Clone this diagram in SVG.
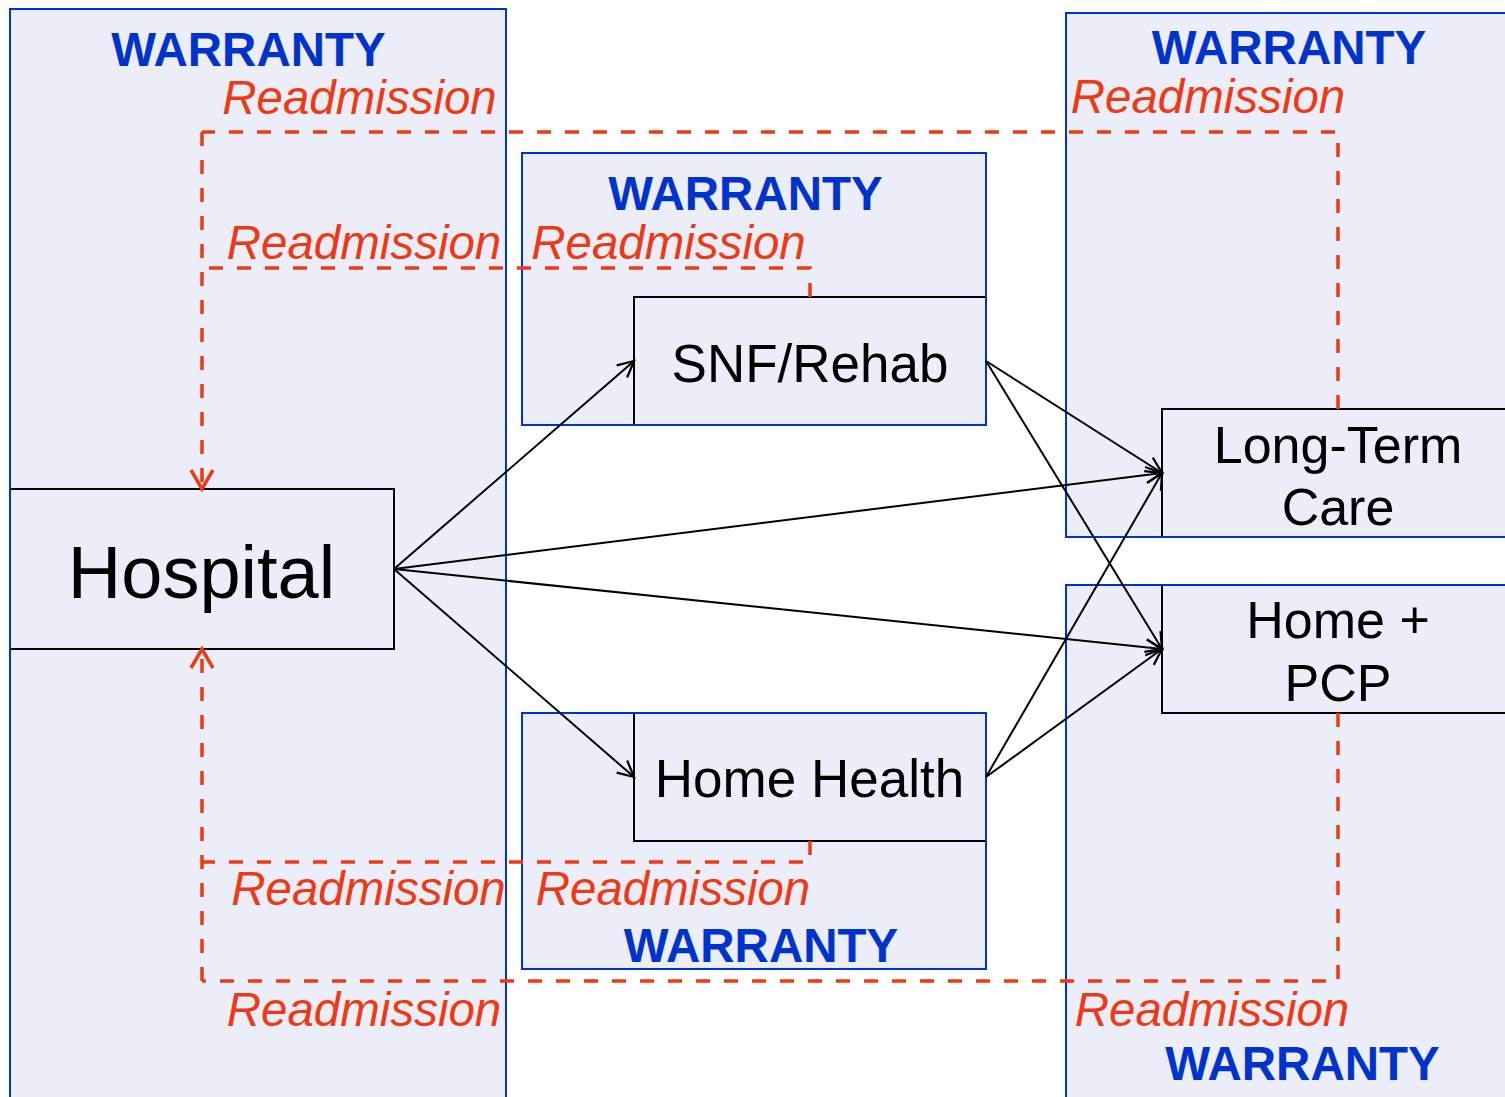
<svg xmlns="http://www.w3.org/2000/svg" width="1505" height="1097" viewBox="0 0 1505 1097">
  <style>
    .zone { fill: #EBEDF9; stroke: none; }
    .zone-edge { fill: none; stroke: #0033CC; stroke-width: 2; }
    .node { fill: #EBEDF9; stroke: #000000; stroke-width: 2; }
    .warranty { font-family: "Liberation Sans", Arial, sans-serif; font-weight: bold; font-size: 47.5px; fill: #0033CC; text-anchor: middle; }
    .readm { font-family: "Liberation Sans", Arial, sans-serif; font-style: italic; font-size: 47.5px; fill: #EE3A14; text-anchor: middle; }
    .label { font-family: "Liberation Sans", Arial, sans-serif; fill: #000000; text-anchor: middle; }
    .flow { fill: none; stroke: #000000; stroke-width: 2; marker-end: url(#arrow-black); }
    .loop { fill: none; stroke: #EE3A14; stroke-width: 3.5; stroke-dasharray: 14 14; }
    .loop-arrow { marker-end: url(#arrow-red); }
  </style>
  <defs>
    <marker id="arrow-black" markerUnits="userSpaceOnUse" markerWidth="24" markerHeight="24" viewBox="-20 -12 24 24" refX="0" refY="0" orient="auto">
      <path d="M -16 -8 L 0 0 L -16 8" fill="none" stroke="#000000" stroke-width="2.2"/>
    </marker>
    <marker id="arrow-red" markerUnits="userSpaceOnUse" markerWidth="30" markerHeight="30" viewBox="-24 -15 30 30" refX="0" refY="0" orient="auto">
      <path d="M -19 -11 L 0 0 L -19 11" fill="none" stroke="#EE3A14" stroke-width="3.5"/>
    </marker>
  </defs>

  <rect width="1505" height="1097" fill="#FFFFFF"/>

  <!-- warranty zones (backgrounds) -->
  <g id="zone-hospital">
    <rect class="zone" x="10" y="9" width="496" height="1100"/>
  </g>
  <g id="zone-snf">
    <rect class="zone" x="522" y="153" width="464" height="272"/>
  </g>
  <g id="zone-homehealth">
    <rect class="zone" x="522" y="713" width="464" height="256"/>
  </g>
  <g id="zone-ltc">
    <rect class="zone" x="1066" y="13" width="450" height="524"/>
  </g>
  <g id="zone-pcp">
    <rect class="zone" x="1066" y="585" width="450" height="520"/>
  </g>

  <!-- care settings -->
  <g id="node-hospital">
    <rect class="node" x="10" y="489" width="384" height="160"/>
    <text class="label" x="201.5" y="598" font-size="74">Hospital</text>
  </g>
  <g id="node-snf">
    <rect class="node" x="634" y="297" width="352" height="128"/>
    <text class="label" x="810" y="382" font-size="53">SNF/Rehab</text>
  </g>
  <g id="node-homehealth">
    <rect class="node" x="634" y="713" width="352" height="128"/>
    <text class="label" x="809.5" y="797" font-size="53">Home Health</text>
  </g>
  <g id="node-ltc">
    <rect class="node" x="1162" y="409" width="360" height="128"/>
    <text class="label" x="1338" y="463" font-size="52">Long-Term</text>
    <text class="label" x="1338" y="525" font-size="52">Care</text>
  </g>
  <g id="node-pcp">
    <rect class="node" x="1162" y="585" width="360" height="128"/>
    <text class="label" x="1338" y="638" font-size="52">Home +</text>
    <text class="label" x="1338" y="701" font-size="52">PCP</text>
  </g>

  <!-- warranty zone outlines drawn over the node boxes -->
  <g id="zone-outlines">
    <rect class="zone-edge" x="10" y="9" width="496" height="1100"/>
    <rect class="zone-edge" x="522" y="153" width="464" height="272"/>
    <rect class="zone-edge" x="522" y="713" width="464" height="256"/>
    <rect class="zone-edge" x="1066" y="13" width="450" height="524"/>
    <rect class="zone-edge" x="1066" y="585" width="450" height="520"/>
  </g>

  <!-- readmission loops back to the hospital -->
  <g id="readmission-loops">
    <path class="loop" d="M 1338 409 V 132 H 202"/>
    <path class="loop loop-arrow" d="M 202 132 V 489"/>
    <path class="loop" d="M 810 297 V 268 H 205"/>
    <path class="loop" d="M 1338 713 V 981 H 202"/>
    <path class="loop loop-arrow" d="M 202 981 V 649"/>
    <path class="loop" d="M 810 841 V 862 H 202"/>
  </g>

  <!-- patient flow between settings -->
  <g id="connectors">
    <line class="flow" x1="394" y1="569" x2="634" y2="361"/>
    <line class="flow" x1="394" y1="569" x2="1162" y2="473"/>
    <line class="flow" x1="394" y1="569" x2="1162" y2="649"/>
    <line class="flow" x1="394" y1="569" x2="634" y2="777"/>
    <line class="flow" x1="986" y1="361" x2="1162" y2="473"/>
    <line class="flow" x1="986" y1="361" x2="1162" y2="649"/>
    <line class="flow" x1="986" y1="777" x2="1162" y2="473"/>
    <line class="flow" x1="986" y1="777" x2="1162" y2="649"/>
  </g>

  <!-- zone labels -->
  <g id="labels">
    <text class="warranty" x="248.5" y="66">WARRANTY</text>
    <text class="readm" x="359.5" y="114">Readmission</text>
    <text class="readm" x="364" y="259">Readmission</text>

    <text class="warranty" x="745.5" y="210">WARRANTY</text>
    <text class="readm" x="668.5" y="259">Readmission</text>

    <text class="warranty" x="1289" y="64">WARRANTY</text>
    <text class="readm" x="1208" y="113">Readmission</text>

    <text class="readm" x="368.5" y="905">Readmission</text>
    <text class="readm" x="673" y="905">Readmission</text>
    <text class="warranty" x="761" y="962">WARRANTY</text>

    <text class="readm" x="364" y="1026">Readmission</text>
    <text class="readm" x="1212" y="1026">Readmission</text>
    <text class="warranty" x="1302.5" y="1080">WARRANTY</text>
  </g>
</svg>
